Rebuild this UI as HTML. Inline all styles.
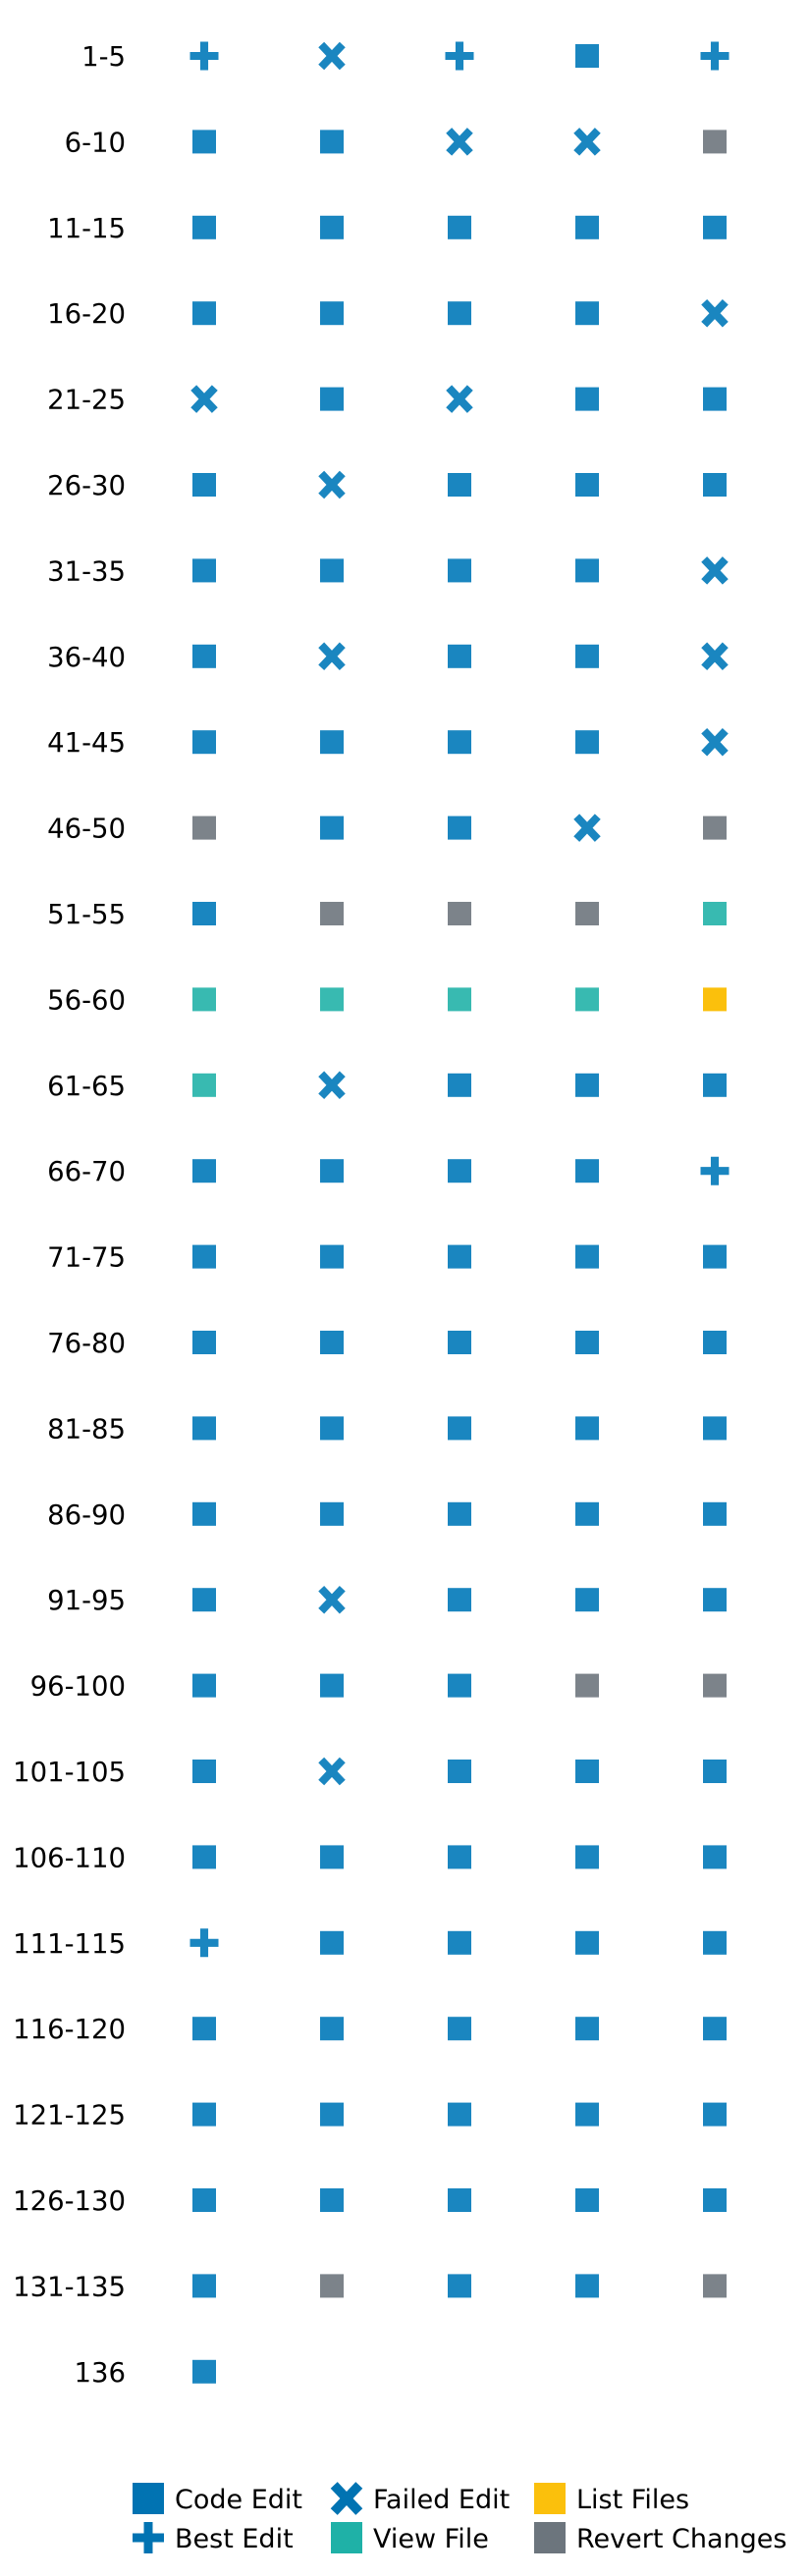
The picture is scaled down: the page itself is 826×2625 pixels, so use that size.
<!DOCTYPE html>
<html><head><meta charset="utf-8"><style>
html,body{margin:0;padding:0;background:#fff;}
svg{display:block;font-family:"DejaVu Sans","Liberation Sans",sans-serif;}
</style></head><body>
<svg id="chart" width="826" height="2625" viewBox="0 0 826 2625">
<g id="marks"></g>
<g id="legend"></g>
</svg>
<script>
const rowLabels = ["1-5","6-10","11-15","16-20","21-25","26-30","31-35","36-40","41-45","46-50","51-55","56-60","61-65","66-70","71-75","76-80","81-85","86-90","91-95","96-100","101-105","106-110","111-115","116-120","121-125","126-130","131-135","136"];
// S=code edit, X=failed edit, P=best edit, V=view file, L=list files, R=revert changes
const rowActions = [
"PXPSP","SSXXR","SSSSS","SSSSX","XSXSS","SXSSS","SSSSX","SXSSX","SSSSX","RSSXR",
"SRRRV","VVVVL","VXSSS","SSSSP","SSSSS","SSSSS","SSSSS","SSSSS","SXSSS","SSSRR",
"SXSSS","SSSSS","PSSSS","SSSSS","SSSSS","SSSSS","SRSSR","S"];
const legendLabels = ["Code Edit","Best Edit","Failed Edit","View File","List Files","Revert Changes"];
const legendCodes = ["S","P","X","V","L","R"];

const NS="http://www.w3.org/2000/svg";
const colors={S:"#1a86c0",X:"#1a86c0",P:"#1a86c0",V:"#38bab1",L:"#fbc00c",R:"#7c838a"};
const legColors={S:"#0173b2",X:"#0173b2",P:"#0173b2",V:"#1fb1a7",L:"#fbc00c",R:"#6c757d"};
const y0=57, dy=87.4, x0=208, dx=130;
function yPos(i){return y0+i*dy;}
function xPos(j){return x0+j*dx;}
function mk(tag,attrs,parent){const e=document.createElementNS(NS,tag);for(const k in attrs)e.setAttribute(k,attrs[k]);parent.appendChild(e);return e;}
function drawMarker(code,cx,cy,size,col,parent){
  const h=size/2;
  if(code==="P"){
    const t=size*0.28;
    return mk("path",{d:`M${cx-t/2},${cy-h}h${t}v${h-t/2}h${h-t/2}v${t}h${-(h-t/2)}v${h-t/2}h${-t}v${-(h-t/2)}h${-(h-t/2)}v${-t}h${h-t/2}z`,fill:col},parent);
  } else if(code==="X"){
    const g=mk("g",{},parent);
    mk("line",{x1:cx-h*0.8,y1:cy-h*0.85,x2:cx+h*0.8,y2:cy+h*0.85,stroke:col,"stroke-width":size*0.3},g);
    mk("line",{x1:cx+h*0.8,y1:cy-h*0.85,x2:cx-h*0.8,y2:cy+h*0.85,stroke:col,"stroke-width":size*0.3},g);
    return g;
  } else {
    return mk("rect",{x:cx-h,y:cy-h,width:size,height:size,fill:col},parent);
  }
}
const marks=document.getElementById("marks");
rowLabels.forEach((lab,i)=>{
  const t=mk("text",{x:128,y:yPos(i)+10,"text-anchor":"end","font-size":"27.5",fill:"#000"},marks);
  t.textContent=lab;
  
  
  rowActions[i].split("").forEach((c,j)=>{
    const size=c==="P"?29:(c==="X"?27:24);
    const m=drawMarker(c,xPos(j),yPos(i),size,colors[c],marks);
    
    
  });
});
const leg=document.getElementById("legend");
const legX=[151,353,560], legY=[2546,2586];
legendLabels.forEach((lab,k)=>{
  const col=Math.floor(k/2), row=k%2;
  const c=legendCodes[k];
  const cx=legX[col], cy=legY[row];
  let m;
  if(c==="P"||c==="X") m=drawMarker(c,cx,cy,32,legColors[c],leg);
  else m=mk("rect",{x:cx-16,y:cy-16,width:32,height:32,fill:legColors[c]},leg);
  
  
  const t=mk("text",{x:cx+27,y:cy+10,"font-size":"27",fill:"#000"},leg);
  t.textContent=lab;
  
  
});
</script>
</body></html>
